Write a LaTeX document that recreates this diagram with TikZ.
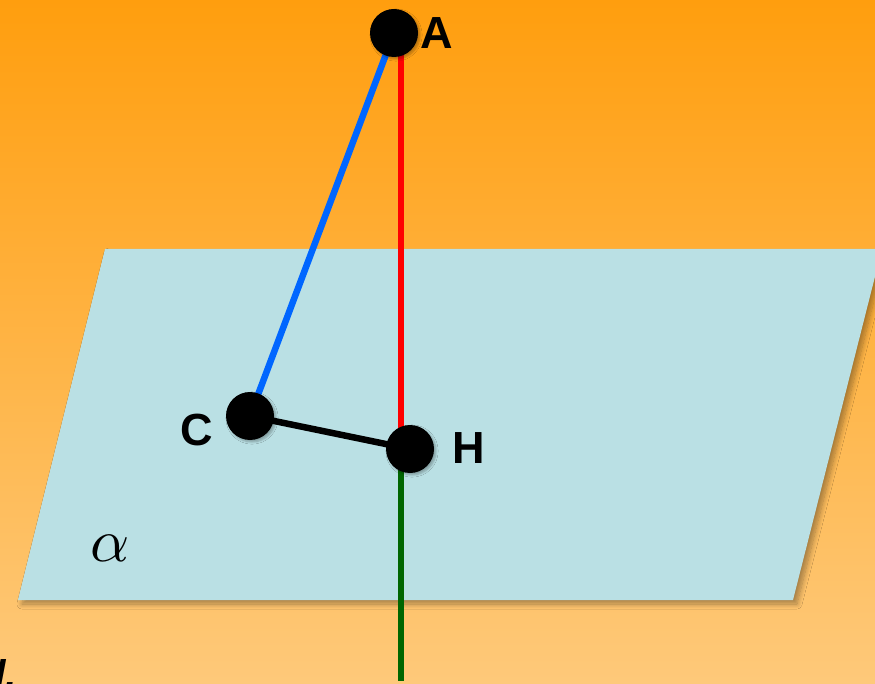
\documentclass[tikz,border=0pt]{standalone}
\usepackage{fontspec}
\setmainfont{Liberation Sans}
\usetikzlibrary{shadows.blur}
\definecolor{bgtop}{RGB}{255,158,14}
\definecolor{bgbot}{RGB}{254,201,122}
\definecolor{planecol}{RGB}{186,224,228}
\definecolor{blueline}{RGB}{0,102,255}
\definecolor{redline}{RGB}{255,0,0}
\definecolor{greenline}{RGB}{0,102,0}
\tikzset{
  seg/.style={line width=6.5pt},
  dot/.style={circle, fill=black, minimum size=48pt, inner sep=0pt,
    blur shadow={shadow xshift=2pt, shadow yshift=-2pt, shadow blur steps=6, shadow opacity=30}},
  lbl/.style={font=\fontsize{45}{45}\selectfont\bfseries, inner sep=0pt},
}
\begin{document}
\begin{tikzpicture}[x=1pt,y=-1pt]
\shade[top color=bgtop, bottom color=bgbot] (0,0) rectangle (875,684);
\useasboundingbox (0,0) rectangle (875,684);
% plane
\path[fill=planecol, blur shadow={shadow xshift=4pt, shadow yshift=-4pt, shadow blur steps=10, shadow blur radius=5pt, shadow opacity=35}]
  (105,249) -- (882,249) -- (793,600) -- (18,600) -- cycle;
% points
\coordinate (pA) at (394,33);
\coordinate (pC) at (250,416);
\coordinate (pH) at (410,449);
\coordinate (rA) at (401,40);
\coordinate (rH) at (401,449);
\coordinate (gEnd) at (401,681);
% segments
\draw[seg, greenline] (rH) -- (gEnd);
\draw[seg, redline] (rA) -- (rH);
\draw[seg, blueline] (pA) -- (pC);
\draw[seg, black] (pC) -- (pH);
% dots
\node[dot] (A) at (pA) {};
\node[dot] (C) at (pC) {};
\node[dot] (H) at (pH) {};
% labels
\node[lbl] (lA) at (437,33) {A};
\node[lbl] (lC) at (197,430) {C};
\node[lbl] (lH) at (469,448) {H};
\node[inner sep=0pt] (alpha) at (110,548) {\scalebox{6.1}{$\alpha$}};
\node[anchor=base east, inner sep=0pt, font=\fontsize{40}{40}\selectfont\bfseries\itshape] (dlbl) at (17,688) {d.};
\end{tikzpicture}
\end{document}
